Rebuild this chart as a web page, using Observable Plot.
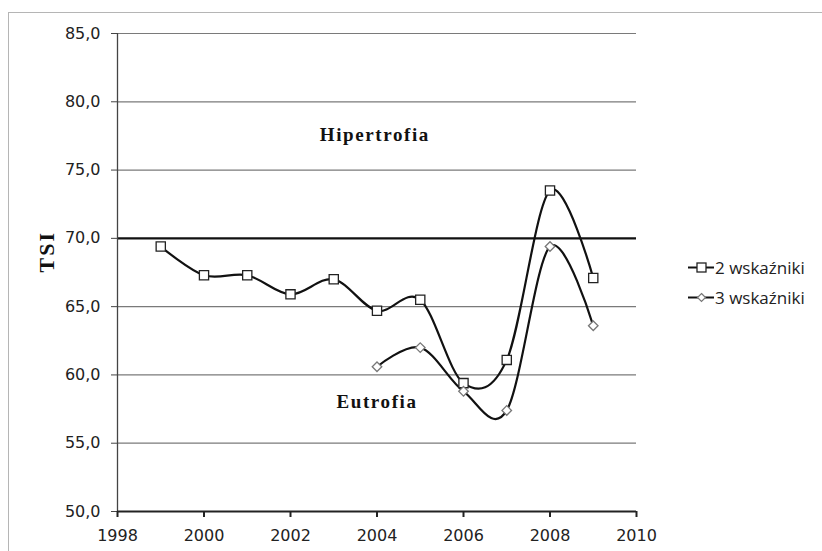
<!DOCTYPE html>
<html>
<head>
<meta charset="utf-8">
<script src="https://cdn.jsdelivr.net/npm/d3@7"></script>
<script src="https://cdn.jsdelivr.net/npm/@observablehq/plot@0.6"></script>
<style>
  html, body { margin: 0; padding: 0; background: #fff; }
  #wrap { position: relative; width: 822px; height: 551px; overflow: hidden; }
  #border { position: absolute; left: 8px; top: 12px; width: 830px; height: 560px; border: 1px solid #b5b5b5; box-sizing: border-box; pointer-events: none; }
  #legend { position: absolute; left: 686px; top: 252px; font-family: "Open Sans", sans-serif; font-size: 17px; color: #222; }
  .item { display: flex; align-items: center; height: 30px; }
  .item svg { margin-right: 1px; }
</style>
</head>
<body>
<div id="wrap">
  <div id="chart"></div>
  <div id="border"></div>
  <div id="legend"></div>
</div>
<script>
const years2 = [1999, 2000, 2001, 2002, 2003, 2004, 2005, 2006, 2007, 2008, 2009];
const values2 = [69.4, 67.3, 67.3, 65.9, 67.0, 64.7, 65.5, 59.4, 61.1, 73.5, 67.1];
const years3 = [2004, 2005, 2006, 2007, 2008, 2009];
const values3 = [60.6, 62.0, 58.8, 57.4, 69.4, 63.6];
const seriesNames = ["2 wskaźniki", "3 wskaźniki"];
const xTicks = [1998, 2000, 2002, 2004, 2006, 2008, 2010];
const yTicks = [50, 55, 60, 65, 70, 75, 80, 85];
const threshold = [70];
const zoneLabels = ["Hipertrofia", "Eutrofia"];
const zoneX = [2003.95, 2004.0];
const zoneY = [77.6, 58.0];

const s2 = years2.map((x, i) => ({x, y: values2[i]}));
const s3 = years3.map((x, i) => ({x, y: values3[i]}));
const zones = zoneLabels.map((t, i) => ({t, x: zoneX[i], y: zoneY[i]}));
const fmt = d => d.toFixed(1).replace(".", ",");

const chart = Plot.plot({
  width: 822,
  height: 551,
  marginLeft: 117,
  marginRight: 186,
  marginTop: 33,
  marginBottom: 40,
  style: { fontFamily: "DejaVu Sans, sans-serif", fontSize: "16px", color: "#222", background: "transparent", overflow: "visible" },
  x: { domain: [1998, 2010], label: null },
  y: { domain: [50, 85], label: null },
  marks: [
    Plot.gridY(yTicks.filter(d => d !== 50 && d !== 70), { stroke: "#7a7a7a", strokeOpacity: 1, strokeWidth: 1.2 }),
    Plot.ruleY(threshold, { stroke: "#111", strokeWidth: 2.2 }),
    Plot.ruleX([1998], { stroke: "#444", strokeWidth: 1.3 }),
    Plot.ruleY([50], { stroke: "#222", strokeWidth: 2 }),
    Plot.axisY({ ticks: yTicks, tickFormat: fmt, tickSize: 6, tickPadding: 11, stroke: "#444", fill: "#222", label: null, fontSize: 16 }),
    Plot.axisX({ ticks: xTicks, tickFormat: d => String(d), tickSize: 6, tickPadding: 12, stroke: "#222", fill: "#222", strokeWidth: 2, label: null, fontSize: 16 }),
    Plot.text(["TSI"], { frameAnchor: "left", dx: -71, rotate: -90, fontFamily: "Liberation Serif, serif", fontWeight: "bold", fontSize: 22, fill: "#111" }),
    Plot.text(zones, { x: "x", y: "y", text: "t", fontFamily: "Liberation Serif, serif", fontWeight: "bold", fontSize: 19, fill: "#111" }),
    Plot.line(s2, { x: "x", y: "y", curve: "cardinal", stroke: "#111", strokeWidth: 2.2 }),
    Plot.line(s3, { x: "x", y: "y", curve: "cardinal", stroke: "#111", strokeWidth: 2.2 }),
    Plot.dot(s2, { x: "x", y: "y", symbol: "square", r: 5.2, stroke: "#222", strokeWidth: 1.3, fill: "white" }),
    Plot.dot(s3, { x: "x", y: "y", symbol: "diamond2", r: 4.3, stroke: "#777", strokeWidth: 1.3, fill: "white" })
  ]
});
document.getElementById("chart").appendChild(chart);
chart.querySelectorAll("text").forEach(t => {
  if (zoneLabels.includes(t.textContent)) t.setAttribute("letter-spacing", "1.6");
  if (t.textContent === "TSI") t.setAttribute("letter-spacing", "2");
});

const legend = document.getElementById("legend");
const symbols = [
  '<rect x="11" y="5" width="9" height="9" fill="white" stroke="#222" stroke-width="1.3"/>',
  '<path d="M15.5 5.5 L19.5 9.5 L15.5 13.5 L11.5 9.5 Z" fill="white" stroke="#777" stroke-width="1.2"/>'
];
seriesNames.forEach((name, i) => {
  const div = document.createElement("div");
  div.className = "item";
  div.innerHTML = `<svg width="28" height="19"><line x1="2" y1="9.5" x2="28" y2="9.5" stroke="#111" stroke-width="2"/>${symbols[i]}</svg><span>${name}</span>`;
  legend.appendChild(div);
});
</script>
</body>
</html>
